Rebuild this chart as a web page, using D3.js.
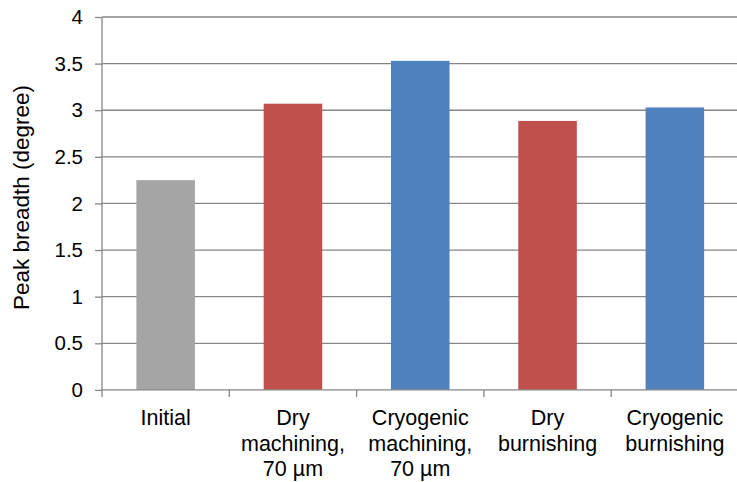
<!DOCTYPE html>
<html><head><meta charset="utf-8">
<script src="https://cdn.jsdelivr.net/npm/d3@7"></script>
<style>html,body{margin:0;padding:0;background:#fff;}svg{display:block;font-family:"Liberation Sans",Arial,sans-serif;}</style>
</head><body>
<svg id="c" width="737" height="482"></svg>
<script>
const categories = [["Initial"],["Dry","machining,","70 µm"],["Cryogenic","machining,","70 µm"],["Dry","burnishing"],["Cryogenic","burnishing"]];
const values = [2.25, 3.07, 3.53, 2.885, 3.03];
const barColors = ["#A5A5A5","#C0504D","#4F81BD","#C0504D","#4F81BD"];
const yTicks = [0,0.5,1,1.5,2,2.5,3,3.5,4];
const yTickLabels = ["0","0.5","1","1.5","2","2.5","3","3.5","4"];
const yTitle = "Peak breadth (degree)";

const svg = d3.select("#c");
const pL = 102, pR = 738.5, pT = 17, pB = 389.9;
const x = d3.scaleBand().domain(d3.range(categories.length)).range([pL, pR]).paddingInner(0.54).paddingOuter(0.27);
const xb = d3.scaleBand().domain(d3.range(categories.length)).range([pL, pR]);
const y = d3.scaleLinear().domain([0,4]).range([pB, pT]);
const gridColor = "#868686";

// gridlines
svg.append("g").selectAll("line").data(yTicks.filter(d=>d>0)).join("line")
  .attr("x1", pL).attr("x2", pR).attr("y1", d=>y(d)).attr("y2", d=>y(d))
  .attr("stroke", gridColor).attr("stroke-width", 1.3);

// bars
svg.append("g").selectAll("rect").data(values).join("rect")
  .attr("x", (d,i)=>x(i)).attr("width", x.bandwidth())
  .attr("y", d=>y(d)).attr("height", d=>y(0)-y(d))
  .attr("fill", (d,i)=>barColors[i]);

// y axis
const yAxis = d3.axisLeft(y).tickValues(yTicks).tickFormat((d,i)=>yTickLabels[i]).tickSize(7).tickPadding(12);
const gy = svg.append("g").attr("transform", `translate(${pL},0)`).call(yAxis);
gy.select(".domain").attr("stroke", gridColor).attr("stroke-width",1.3).attr("d", `M0,${pT}V${pB}`);
gy.selectAll(".tick line").attr("stroke", gridColor).attr("stroke-width",1.3);
gy.selectAll(".tick text").attr("font-size", 20.5).attr("fill","#000").attr("font-family","Liberation Sans, Arial, sans-serif");

// x axis
const gx = svg.append("g").attr("transform", `translate(0,${pB})`);
gx.append("line").attr("x1", pL).attr("x2", pR).attr("stroke", gridColor).attr("stroke-width",1.3);
gx.selectAll(".sep").data(d3.range(categories.length+1)).join("line")
  .attr("x1", i=>pL + i*xb.step()).attr("x2", i=>pL + i*xb.step())
  .attr("y1",0).attr("y2",7).attr("stroke", gridColor).attr("stroke-width",1.3);

// category labels
const lab = svg.append("g").selectAll("text").data(categories).join("text")
  .attr("text-anchor","middle").attr("font-size",21.5).attr("fill","#000")
  .attr("transform",(d,i)=>`translate(${xb(i)+xb.bandwidth()/2},425)`);
lab.selectAll("tspan").data(d=>d).join("tspan").attr("x",0).attr("y",(d,j)=>j*25.6).text(d=>d);

// y title
svg.append("text").attr("transform","translate(29,197.5) rotate(-90)")
  .attr("text-anchor","middle").attr("font-size",22.5).attr("fill","#000").text(yTitle);
</script>
</body></html>
